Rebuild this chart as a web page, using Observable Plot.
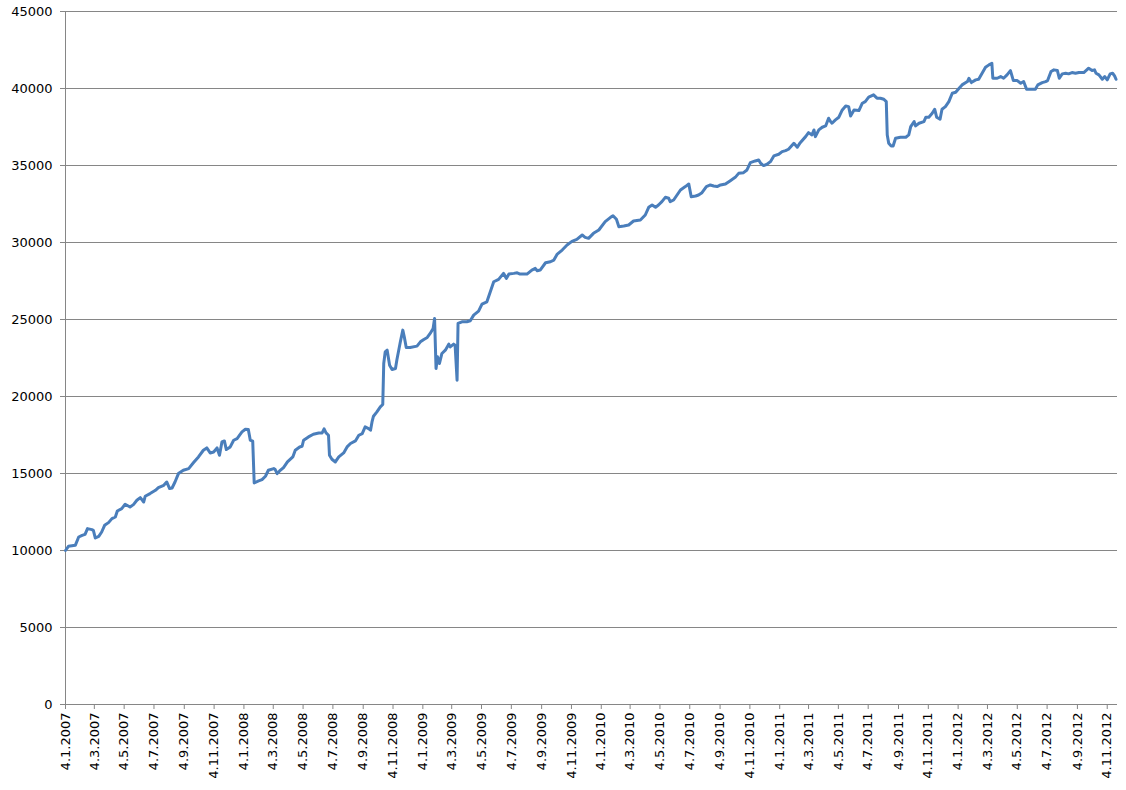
<!DOCTYPE html>
<html>
<head>
<meta charset="utf-8">
<script src="https://cdn.jsdelivr.net/npm/d3@7"></script>
<script src="https://cdn.jsdelivr.net/npm/@observablehq/plot@0.6"></script>
<style>
  html, body { margin: 0; padding: 0; background: #ffffff; }
  #chart { width: 1126px; height: 790px; }
  svg { display: block; }
</style>
</head>
<body>
<div id="chart"></div>
<script>
// ---- Data ----
const dates = [
  "2007-01-04","2007-01-10","2007-01-24","2007-01-31","2007-02-07","2007-02-13","2007-02-18","2007-02-27","2007-03-02","2007-03-06",
  "2007-03-13","2007-03-19","2007-03-25","2007-04-02","2007-04-09","2007-04-16","2007-04-20","2007-04-29","2007-05-06","2007-05-16",
  "2007-05-23","2007-05-30","2007-06-06","2007-06-13","2007-06-16","2007-06-26","2007-07-07","2007-07-13","2007-07-24","2007-07-30",
  "2007-08-05","2007-08-10","2007-08-16","2007-08-23","2007-09-02","2007-09-13","2007-09-23","2007-10-03","2007-10-13","2007-10-20",
  "2007-10-27","2007-11-03","2007-11-10","2007-11-15","2007-11-20","2007-11-25","2007-11-29","2007-12-07","2007-12-14","2007-12-21",
  "2007-12-31","2008-01-07","2008-01-13","2008-01-17","2008-01-22","2008-01-25","2008-02-03","2008-02-10","2008-02-17","2008-02-23",
  "2008-03-05","2008-03-08","2008-03-12","2008-03-17","2008-03-25","2008-04-02","2008-04-13","2008-04-18","2008-04-27","2008-05-02",
  "2008-05-05","2008-05-15","2008-05-25","2008-06-05","2008-06-12","2008-06-16","2008-06-20","2008-06-25","2008-06-27","2008-07-02",
  "2008-07-09","2008-07-16","2008-07-26","2008-08-02","2008-08-09","2008-08-19","2008-08-26","2008-09-02","2008-09-08","2008-09-15",
  "2008-09-19","2008-09-22","2008-09-25","2008-10-02","2008-10-09","2008-10-14","2008-10-16","2008-10-19","2008-10-23","2008-10-28",
  "2008-11-02","2008-11-09","2008-11-12","2008-11-19","2008-11-24","2008-11-27","2008-12-01","2008-12-09","2008-12-23","2008-12-30",
  "2009-01-06","2009-01-13","2009-01-19","2009-01-25","2009-01-28","2009-01-31","2009-02-03","2009-02-07","2009-02-12","2009-02-19",
  "2009-02-26","2009-03-01","2009-03-08","2009-03-11","2009-03-15","2009-03-17","2009-03-25","2009-04-04","2009-04-11","2009-04-18",
  "2009-04-28","2009-05-05","2009-05-15","2009-05-22","2009-05-29","2009-06-08","2009-06-18","2009-06-24","2009-06-29","2009-07-09",
  "2009-07-16","2009-07-22","2009-08-05","2009-08-15","2009-08-22","2009-08-26","2009-09-01","2009-09-12","2009-09-22","2009-09-29",
  "2009-10-06","2009-10-16","2009-10-26","2009-11-05","2009-11-15","2009-11-26","2009-12-02","2009-12-09","2009-12-19","2009-12-30",
  "2010-01-12","2010-01-23","2010-01-28","2010-02-04","2010-02-09","2010-02-19","2010-03-01","2010-03-11","2010-03-25","2010-04-04",
  "2010-04-11","2010-04-18","2010-04-25","2010-05-01","2010-05-08","2010-05-15","2010-05-22","2010-05-25","2010-06-01","2010-06-08",
  "2010-06-15","2010-06-25","2010-07-02","2010-07-07","2010-07-16","2010-07-22","2010-07-29","2010-08-07","2010-08-15","2010-08-22",
  "2010-08-29","2010-09-05","2010-09-15","2010-09-25","2010-10-05","2010-10-12","2010-10-22","2010-10-29","2010-11-05","2010-11-15",
  "2010-11-22","2010-11-26","2010-12-02","2010-12-09","2010-12-16","2010-12-23","2011-01-02","2011-01-09","2011-01-16","2011-01-22",
  "2011-02-02","2011-02-09","2011-02-15","2011-02-26","2011-03-04","2011-03-11","2011-03-15","2011-03-18","2011-03-25","2011-04-01",
  "2011-04-08","2011-04-14","2011-04-18","2011-04-21","2011-04-28","2011-05-05","2011-05-12","2011-05-19","2011-05-25","2011-05-29",
  "2011-06-05","2011-06-15","2011-06-22","2011-06-28","2011-07-05","2011-07-15","2011-07-22","2011-07-29","2011-08-05","2011-08-10",
  "2011-08-12","2011-08-15","2011-08-20","2011-08-24","2011-08-29","2011-09-08","2011-09-19","2011-09-25","2011-09-29","2011-10-06",
  "2011-10-09","2011-10-16","2011-10-26","2011-10-30","2011-11-05","2011-11-12","2011-11-17","2011-11-21","2011-11-28","2011-12-02",
  "2011-12-09","2011-12-16","2011-12-23","2011-12-30","2012-01-06","2012-01-12","2012-01-23","2012-01-26","2012-01-31","2012-02-09",
  "2012-02-15","2012-02-22","2012-02-29","2012-03-07","2012-03-13","2012-03-15","2012-03-24","2012-03-31","2012-04-06","2012-04-13",
  "2012-04-20","2012-04-26","2012-05-04","2012-05-11","2012-05-17","2012-05-23","2012-05-31","2012-06-10","2012-06-15","2012-06-24",
  "2012-07-01","2012-07-05","2012-07-12","2012-07-18","2012-07-25","2012-07-29","2012-08-04","2012-08-11","2012-08-17","2012-08-24",
  "2012-08-31","2012-09-07","2012-09-17","2012-09-27","2012-10-04","2012-10-09","2012-10-12","2012-10-18","2012-10-25","2012-10-30",
  "2012-11-04","2012-11-10","2012-11-15","2012-11-19","2012-11-22"
];
const values = [
  10000,10270,10335,10875,10985,11050,11420,11355,11310,10810,
  10920,11200,11635,11810,12070,12175,12565,12720,13000,12825,
  12980,13260,13435,13150,13520,13695,13910,14085,14235,14450,
  14020,14060,14450,14995,15210,15320,15710,16075,16510,16660,
  16335,16400,16660,16185,17050,17115,16555,16725,17160,17270,
  17700,17875,17855,17160,17095,14385,14515,14605,14820,15210,
  15320,15255,14995,15165,15385,15750,16075,16510,16725,16770,
  17160,17375,17550,17635,17635,17895,17635,17485,16185,15925,
  15750,16075,16335,16725,16945,17115,17485,17595,18025,17920,
  17810,18350,18720,19000,19325,19480,22145,22900,23010,22035,
  21755,21820,22405,23550,24310,23875,23185,23185,23270,23550,
  23705,23835,24095,24420,25070,21820,22575,22145,22795,23010,
  23400,23225,23400,23335,21060,24745,24850,24850,24915,25285,
  25545,26000,26150,26800,27450,27605,27995,27670,27950,27995,
  28035,27950,27950,28210,28320,28165,28210,28685,28750,28860,
  29250,29510,29835,30075,30205,30485,30335,30270,30595,30810,
  31350,31635,31740,31505,31025,31070,31135,31395,31460,31785,
  32285,32435,32285,32435,32650,32935,32870,32650,32760,33085,
  33410,33630,33800,32975,33020,33085,33235,33630,33735,33670,
  33630,33735,33800,34015,34230,34490,34535,34710,35185,35295,
  35360,35145,34995,35080,35250,35620,35730,35900,35965,36055,
  36445,36185,36485,36875,37135,36985,37310,36875,37310,37485,
  37570,38070,37850,37745,37960,38135,38610,38870,38825,38220,
  38610,38565,39045,39150,39435,39585,39370,39370,39305,39150,
  36985,36445,36270,36270,36770,36835,36835,36985,37525,37850,
  37570,37745,37850,38135,38135,38395,38655,38135,38005,38655,
  38825,39150,39695,39760,40020,40235,40450,40665,40385,40560,
  40600,40990,41380,41535,41640,40665,40665,40775,40665,40885,
  41165,40515,40515,40340,40450,39955,39955,39955,40235,40385,
  40450,40515,41100,41210,41165,40665,40950,40990,40950,41035,
  40990,41035,41035,41315,41165,41210,40990,40885,40600,40775,
  40560,40950,40990,40820,40600
];
const xTickLabels = [
  "4.1.2007","4.3.2007","4.5.2007","4.7.2007","4.9.2007","4.11.2007",
  "4.1.2008","4.3.2008","4.5.2008","4.7.2008","4.9.2008","4.11.2008",
  "4.1.2009","4.3.2009","4.5.2009","4.7.2009","4.9.2009","4.11.2009",
  "4.1.2010","4.3.2010","4.5.2010","4.7.2010","4.9.2010","4.11.2010",
  "4.1.2011","4.3.2011","4.5.2011","4.7.2011","4.9.2011","4.11.2011",
  "4.1.2012","4.3.2012","4.5.2012","4.7.2012","4.9.2012","4.11.2012"
];
const yTicks = [0, 5000, 10000, 15000, 20000, 25000, 30000, 35000, 40000, 45000];
const xAxisEnd = "2012-11-25";

// ---- Build table ----
const parseDMY = s => { const [d, m, y] = s.split(".").map(Number); return new Date(Date.UTC(y, m - 1, d)); };
const fmtDMY = d => `${d.getUTCDate()}.${d.getUTCMonth() + 1}.${d.getUTCFullYear()}`;
const data = dates.map((d, i) => ({date: d3.isoParse(d), value: values[i]}));
const xTicks = xTickLabels.map(parseDMY);
const x0 = data[0].date;

const axisColor = "#868686";
const chart = Plot.plot({
  width: 1126,
  height: 790,
  marginLeft: 65,
  marginRight: 9,
  marginTop: 11,
  marginBottom: 86,
  style: {fontFamily: "DejaVu Sans, Verdana, sans-serif", fontSize: "13px", color: "#000", background: "#fff"},
  x: {type: "utc", domain: [x0, d3.isoParse(xAxisEnd)]},
  y: {domain: [0, 45000]},
  marks: [
    Plot.gridY(yTicks.filter(v => v > 0), {stroke: axisColor, strokeOpacity: 1, strokeWidth: 1}),
    Plot.ruleY([0], {stroke: axisColor, strokeWidth: 1}),
    Plot.ruleX([x0], {stroke: axisColor, strokeWidth: 1}),
    Plot.axisY({ticks: yTicks, tickSize: 5, tickPadding: 8, stroke: axisColor, fill: "#000", label: null, tickFormat: d => String(d)}),
    Plot.axisX({ticks: xTicks, tickSize: 5, tickPadding: 3, tickRotate: -90, tickFormat: fmtDMY, stroke: axisColor, fill: "#000", label: null}),
    Plot.line(data, {x: "date", y: "value", stroke: "#4a7ebb", strokeWidth: 3, strokeLinejoin: "round", curve: "linear"})
  ]
});
document.getElementById("chart").appendChild(chart);
</script>
</body>
</html>
